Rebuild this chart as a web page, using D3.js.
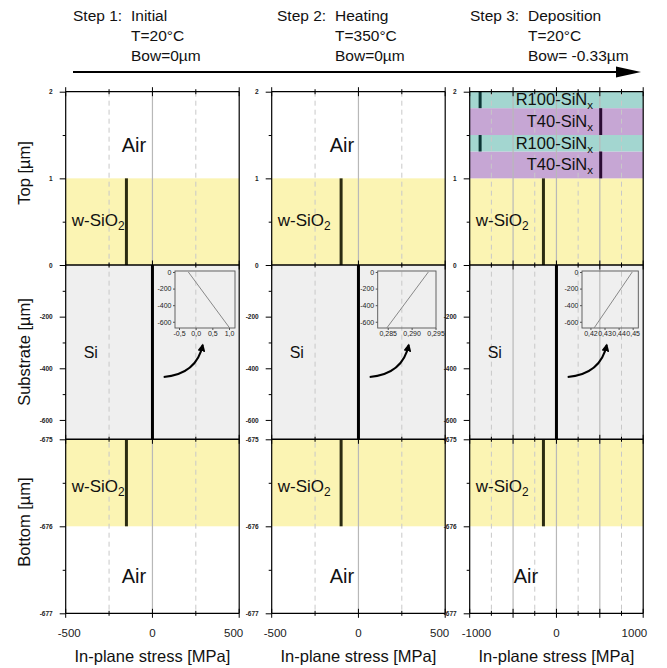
<!DOCTYPE html>
<html><head><meta charset="utf-8">
<script src="https://cdn.jsdelivr.net/npm/d3@7"></script>
<style>
body{margin:0;background:#fff;}
svg{font-family:"Liberation Sans",Arial,sans-serif;display:block;}
</style></head><body>
<script>
// header text for each step
var stepNums = ["Step 1:", "Step 2:", "Step 3:"];
var stepNames = ["Initial", "Heating", "Deposition"];
var stepTemps = ["T=20°C", "T=350°C", "T=20°C"];
var stepBows = ["Bow=0µm", "Bow=0µm", "Bow= -0.33µm"];

// x axis (stress, MPa) per panel
var xDomains = [[-500, 500], [-500, 500], [-1000, 1000]];
var xMajor = [[-500, 0, 500], [-500, 0, 500], [-1000, -500, 0, 500, 1000]];
var xMinor = [[-250, 250], [-250, 250], [-750, -250, 250, 750]];
var xLabels = [[-500, 0, 500], [-500, 0, 500], [-1000, 0, 1000]];

// y ticks per section (µm)
var topTicks = [0, 1, 2], topMinor = [0.5, 1.5];
var subTicks = [-200, -400, -600, -675], subMinor = [-100, -300, -500];
var botTicks = [-676, -677], botMinor = [-675.5, -676.5];

// film stress (MPa)
var sio2Stress = [-150, -100, -150];
var siStress = [0, 0, 0];

// SiNx stack deposited in step 3
var filmNames = ["T40", "R100", "T40", "R100"];
var filmBottom = [1.0, 1.31, 1.5, 1.81];
var filmTop = [1.31, 1.5, 1.81, 2.0];
var filmStress = [510, -880, 510, -880];

// insets: stress through the Si wafer
var insetDomains = [[-0.62, 1.18], [0.2829, 0.2951], [0.414, 0.454]];
var insetTicks = [[-0.5, 0, 0.5, 1.0], [0.285, 0.290, 0.295], [0.42, 0.43, 0.44, 0.45]];
var insetDecimals = [1, 3, 2];
var insetDepth = [0, -675];
var insetStress = [[-0.22, 1.02], [0.2935, 0.2848], [0.4497, 0.4226]];
var insetYTicks = [0, -200, -400, -600];

var W = 667, H = 668;
var panelX = [65.7, 271.7, 469.7], panelW = 173.5;
var insetLeft = [109.3, 106, 112.3], insetW = [60, 58.3, 56.3];
var yTop = d3.scaleLinear([0, 2], [265, 91.7]);
var ySub = d3.scaleLinear([-675, 0], [439.3, 265]);
var yBot = d3.scaleLinear([-677, -675], [613.3, 439.3]);
var yMin = yTop(2), yMax = yBot(-677);

var colYellow = "#fbf4b3", colSi = "#efefef";
var filmFill = {T40: "#c6a6d4", R100: "#a3d6d0"};
var filmLine = {T40: "#2a0b33", R100: "#0b3434"};

var svg = d3.select("body").append("svg").attr("width", W).attr("height", H);
var defs = svg.append("defs");
defs.append("marker").attr("id", "head").attr("viewBox", "0 0 10 10")
  .attr("refX", 8).attr("refY", 5).attr("markerWidth", 4).attr("markerHeight", 4)
  .attr("orient", "auto")
  .append("path").attr("d", "M0,0L10,5L0,10Z").attr("fill", "#000");

// header
var hdrX = [73, 277, 470];
stepNums.forEach(function(s, i) {
  var t = svg.append("g").attr("font-size", 15.5).attr("fill", "#111");
  t.append("text").attr("x", hdrX[i]).attr("y", 21).text(s);
  t.append("text").attr("x", hdrX[i] + 58).attr("y", 21).text(stepNames[i]);
  t.append("text").attr("x", hdrX[i] + 58).attr("y", 41).text(stepTemps[i]);
  t.append("text").attr("x", hdrX[i] + 58).attr("y", 61).text(stepBows[i]);
});
svg.append("line").attr("x1", 73).attr("x2", 620).attr("y1", 72).attr("y2", 72)
  .attr("stroke", "#000").attr("stroke-width", 2);
svg.append("path").attr("d", "M616,66.5L641,72L616,77.5Z").attr("fill", "#000");

// y titles
[["Top [µm]", 173], ["Substrate [µm]", 352], ["Bottom [µm]", 522]].forEach(function(d) {
  svg.append("text").attr("transform", "translate(30," + d[1] + ") rotate(-90)")
    .attr("text-anchor", "middle").attr("font-size", 16.5).attr("fill", "#111").text(d[0]);
});

function sub(textSel, main, s) {
  textSel.append("tspan").text(main);
  textSel.append("tspan").attr("font-size", "70%").attr("dy", 4).text(s);
}

function fmt(v, dec) {
  return (v < 0 ? "-" : "") + Math.abs(v).toFixed(dec).replace(".", ",");
}

panelX.forEach(function(px, i) {
  var g = svg.append("g");
  var x = d3.scaleLinear(xDomains[i], [px, px + panelW]);

  // layer fills
  g.append("rect").attr("x", px).attr("width", panelW)
    .attr("y", yTop(1)).attr("height", yTop(0) - yTop(1)).attr("fill", colYellow);
  g.append("rect").attr("x", px).attr("width", panelW)
    .attr("y", ySub(0)).attr("height", ySub(-675) - ySub(0)).attr("fill", colSi);
  g.append("rect").attr("x", px).attr("width", panelW)
    .attr("y", yBot(-675)).attr("height", yBot(-676) - yBot(-675)).attr("fill", colYellow);
  if (i == 2) {
    filmNames.forEach(function(n, k) {
      g.append("rect").attr("x", px).attr("width", panelW)
        .attr("y", yTop(filmTop[k])).attr("height", yTop(filmBottom[k]) - yTop(filmTop[k]))
        .attr("fill", filmFill[n]);
    });
  }

  // grid
  xMajor[i].filter(function(v) { return v > xDomains[i][0] && v < xDomains[i][1]; })
    .forEach(function(v) {
      g.append("line").attr("x1", x(v)).attr("x2", x(v)).attr("y1", yMin).attr("y2", yMax)
        .attr("stroke", "#b8b8b8").attr("stroke-width", 1.2);
    });
  xMinor[i].forEach(function(v) {
    g.append("line").attr("x1", x(v)).attr("x2", x(v)).attr("y1", yMin).attr("y2", yMax)
      .attr("stroke", "#c8c8c8").attr("stroke-width", 1).attr("stroke-dasharray", "5,4");
  });

  // stress lines
  function sline(v, y1, y2, col) {
    g.append("line").attr("x1", x(v)).attr("x2", x(v)).attr("y1", y1).attr("y2", y2)
      .attr("stroke", col).attr("stroke-width", 3);
  }
  sline(sio2Stress[i], yTop(0), yTop(1), "#2b2b12");
  sline(sio2Stress[i], yBot(-675), yBot(-676), "#2b2b12");
  sline(siStress[i], ySub(0), ySub(-675), "#000");
  if (i == 2) {
    filmNames.forEach(function(n, k) {
      sline(filmStress[k], yTop(filmBottom[k]), yTop(filmTop[k]), filmLine[n]);
    });
  }

  // frame and section boundaries
  g.append("line").attr("x1", px).attr("x2", px).attr("y1", yMin).attr("y2", yMax)
    .attr("stroke", "#000").attr("stroke-width", 1.2);
  g.append("line").attr("x1", px + panelW).attr("x2", px + panelW).attr("y1", yMin).attr("y2", yMax)
    .attr("stroke", "#000").attr("stroke-width", 1.2);
  [yMin, yTop(0), yBot(-675), yMax].forEach(function(yy, k) {
    g.append("line").attr("x1", px).attr("x2", px + panelW).attr("y1", yy).attr("y2", yy)
      .attr("stroke", "#000").attr("stroke-width", (k == 1 || k == 2) ? 1.6 : 1.2);
    xMajor[i].forEach(function(v) {
      g.append("line").attr("x1", x(v)).attr("x2", x(v)).attr("y1", yy - 4.5).attr("y2", yy + 4.5)
        .attr("stroke", "#000").attr("stroke-width", 1);
    });
    xMinor[i].forEach(function(v) {
      g.append("line").attr("x1", x(v)).attr("x2", x(v)).attr("y1", yy - 2.5).attr("y2", yy + 2.5)
        .attr("stroke", "#000").attr("stroke-width", 1);
    });
  });

  // left axes
  [[yTop, topTicks, topMinor], [ySub, subTicks, subMinor], [yBot, botTicks, botMinor]].forEach(function(s) {
    var ax = g.append("g").attr("transform", "translate(" + px + ",0)")
      .call(d3.axisLeft(s[0]).tickValues(s[1]).tickSize(6).tickPadding(7)
        .tickFormat(function(d) { return String(d); }));
    ax.select(".domain").remove();
    ax.selectAll("text").attr("font-size", 6.5).attr("font-weight", "bold").attr("fill", "#222")
      .attr("font-family", "Liberation Sans, Arial, sans-serif");
    var mn = g.append("g").attr("transform", "translate(" + px + ",0)")
      .call(d3.axisLeft(s[0]).tickValues(s[2]).tickSize(3).tickFormat(""));
    mn.select(".domain").remove();
  });

  // bottom tick labels
  xLabels[i].forEach(function(v, k) {
    var last = xLabels[i].length - 1;
    g.append("text").attr("y", 637).attr("font-size", 11.5).attr("fill", "#222")
      .attr("x", k == 0 ? x(v) - 8 : k == last ? x(v) + 4 : x(v))
      .attr("text-anchor", k == 0 ? "start" : k == last ? "end" : "middle")
      .text(String(v));
  });
  g.append("text").attr("x", px + panelW / 2).attr("y", 662).attr("text-anchor", "middle")
    .attr("font-size", 16.5).attr("fill", "#111").text("In-plane stress [MPa]");

  // layer names
  var airDx = [56, 58, 44][i];
  if (i < 2) {
    g.append("text").attr("x", px + airDx).attr("y", 152).attr("font-size", 20).attr("fill", "#111").text("Air");
  }
  g.append("text").attr("x", px + airDx).attr("y", 583).attr("font-size", 20).attr("fill", "#111").text("Air");
  sub(g.append("text").attr("x", px + 6).attr("y", 226).attr("font-size", 17).attr("fill", "#111"), "w-SiO", "2");
  sub(g.append("text").attr("x", px + 6).attr("y", 492).attr("font-size", 17).attr("fill", "#111"), "w-SiO", "2");
  g.append("text").attr("x", px + 18).attr("y", 358).attr("font-size", 16).attr("fill", "#111").text("Si");
  if (i == 2) {
    filmNames.forEach(function(n, k) {
      var ym = (yTop(filmBottom[k]) + yTop(filmTop[k])) / 2;
      sub(g.append("text").attr("x", 593).attr("y", ym + 5.5).attr("text-anchor", "end")
        .attr("font-size", 16.5).attr("fill", "#111"), n + "-SiN", "x");
    });
  }

  // inset
  var il = px + insetLeft[i], iw = insetW[i];
  var ix = d3.scaleLinear(insetDomains[i], [il, il + iw]);
  var iy = d3.scaleLinear([-675, 0], [328, 272]);
  var ig = g.append("g");
  ig.append("rect").attr("x", il).attr("y", 271).attr("width", iw).attr("height", 57)
    .attr("fill", "none").attr("stroke", "#555").attr("stroke-width", 0.9);
  var iyAx = ig.append("g").attr("transform", "translate(" + il + ",0)")
    .call(d3.axisLeft(iy).tickValues(insetYTicks).tickSize(2).tickPadding(1.5)
      .tickFormat(function(d) { return String(d); }));
  var ixAx = ig.append("g").attr("transform", "translate(0,328)")
    .call(d3.axisBottom(ix).tickValues(insetTicks[i]).tickSize(2).tickPadding(1.5)
      .tickFormat(function(d) { return fmt(d, insetDecimals[i]); }));
  [iyAx, ixAx].forEach(function(a) {
    a.select(".domain").remove();
    a.selectAll("line").attr("stroke", "#555");
    a.selectAll("text").attr("font-size", 7).attr("fill", "#222")
      .attr("font-family", "Liberation Sans, Arial, sans-serif");
  });
  ig.append("path").datum(insetDepth.map(function(d, k) { return [insetStress[i][k], d]; }))
    .attr("d", d3.line().x(function(d) { return ix(d[0]); }).y(function(d) { return iy(d[1]); }))
    .attr("fill", "none").attr("stroke", "#888").attr("stroke-width", 1);

  // curved arrow pointing at the inset
  var ax0 = px + 98, ay0 = 377, ax1 = px + 137, ay1 = 345;
  g.append("path").attr("d", "M" + ax0 + "," + ay0 + "Q" + (ax1 - 6) + "," + (ay0 - 3) + " " + ax1 + "," + ay1)
    .attr("fill", "none").attr("stroke", "#000").attr("stroke-width", 2)
    .attr("marker-end", "url(#head)");
});
</script>
</body></html>
